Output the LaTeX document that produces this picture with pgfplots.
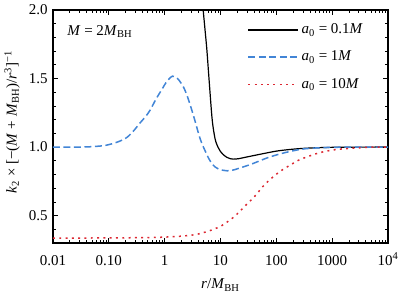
\documentclass[border=0pt]{standalone}
\usepackage{fontspec}
\setmainfont{Liberation Serif}
\usepackage{pgfplots}
\pgfplotsset{compat=1.18}
\definecolor{cblue}{RGB}{66,133,214}
\definecolor{cred}{RGB}{220,40,50}
\begin{document}
\begin{tikzpicture}
\begin{axis}[
  scale only axis, width=223.33pt, height=155.33pt,
  xmode=log, xmin=0.01, xmax=10000, ymin=0.3, ymax=2.0,
  xtick={0.01,0.1,1,10,100,1000,10000},
  xticklabels={0.01,0.10,1,10,100,1000,10\textsuperscript{4}},
  minor xtick={0.02,0.03,0.04,0.05,0.06,0.07,0.08,0.09,0.2,0.3,0.4,0.5,0.6,0.7,0.8,0.9,2,3,4,5,6,7,8,9,20,30,40,50,60,70,80,90,200,300,400,500,600,700,800,900,2000,3000,4000,5000,6000,7000,8000,9000},
  ytick={0.5,1,1.5,2},
  minor ytick={0.3,0.4,0.6,0.7,0.8,0.9,1.1,1.2,1.3,1.4,1.6,1.7,1.8,1.9},
  scaled y ticks=false,
  y tick label style={/pgf/number format/.cd, fixed, fixed zerofill, precision=1},
  /pgf/number format/assume math mode=true,
  tick align=inside,
  major tick length=3.3pt, minor tick length=1.8pt,
  every tick/.style={black, line width=0.5pt},
  axis line style={line width=0.8pt},
  tick label style={font=\fontsize{10}{12}\selectfont},
  xticklabel style={anchor=north, inner sep=0pt, text height=6.7pt, text depth=0pt, yshift=-8pt},
  label style={font=\fontsize{10}{12}\selectfont},
  xlabel={\textit{r}/\textit{M}\textsubscript{BH}},
  xlabel style={at={(axis description cs:0.5,-0.18)}, anchor=center},
  ylabel={\textit{k}\textsubscript{2} × [−(\textit{M} + \textit{M}\textsubscript{BH})/\textit{r}\textsuperscript{3}]\textsuperscript{−1}},
  ylabel style={at={(axis description cs:-0.122,0.52)}, anchor=center, rotate=0},
  legend cell align=left,
  legend style={draw=none, fill=none, at={(0.935,0.955)}, anchor=north east, inner sep=0pt, row sep=6pt, font=\fontsize{10}{12}\selectfont},
  legend image code/.code={\draw[#1] (0pt,0pt) -- (33pt,0pt);},
]
\addplot[black, line width=0.8pt, smooth] coordinates {
(4.6,2.15) (4.9,2.0) (5.3,1.85) (5.7,1.71) (6.3,1.47) (7.1,1.2) (8.0,1.06) (9.0,1.0) (9.8,0.973) (11,0.948) (13,0.925) (15,0.915) (17,0.912) (21,0.915) (27.5,0.925) (55,0.95) (110,0.973) (290,0.99) (1000,0.998) (10000,1.0)
};
\addlegendentry{\textit{a}\textsubscript{0} = 0.1\textit{M}}
\addplot[cblue, line width=1pt, dash pattern=on 4.6pt off 2.4pt, smooth] coordinates {
(0.01,1.0) (0.03,1.0) (0.05,1.003) (0.08,1.01) (0.105,1.02) (0.15,1.04) (0.21,1.07) (0.28,1.12) (0.36,1.175) (0.45,1.22) (0.55,1.27) (0.7,1.35) (0.89,1.42) (1.1,1.48) (1.38,1.517) (1.7,1.5) (2.16,1.44) (2.6,1.36) (3.06,1.27) (3.5,1.19) (4.1,1.09) (4.6,1.03) (5.3,0.973) (6.1,0.92) (7.0,0.88) (8,0.855) (9.2,0.84) (11,0.831) (13,0.827) (16,0.83) (21,0.844) (36,0.876) (73,0.925) (145,0.96) (290,0.985) (600,0.995) (1500,0.999) (10000,1.0)
};
\addlegendentry{\textit{a}\textsubscript{0} = 1\textit{M}}
\addplot[cred, line width=1pt, dash pattern=on 1.3pt off 2.9pt, smooth] coordinates {
(0.01,0.336) (0.1,0.337) (0.5,0.34) (1,0.343) (2,0.35) (3,0.357) (3.76,0.363) (6.1,0.387) (9.8,0.42) (13.9,0.46) (18.2,0.497) (27.5,0.57) (41.7,0.644) (63,0.73) (110,0.815) (190,0.876) (270,0.91) (610,0.96) (1380,0.985) (5000,0.999) (10000,1.0)
};
\addlegendentry{\textit{a}\textsubscript{0} = 10\textit{M}}
\node[anchor=west, font=\fontsize{10}{12}\selectfont] at (rel axis cs:0.027,0.906) {\textit{M} = 2\textit{M}\textsubscript{BH}};
\coordinate (ll) at (rel axis cs:0,0);
\coordinate (ur) at (rel axis cs:1,1);
\end{axis}
\pgfresetboundingbox
\path ([shift={(-35.33pt,-36.67pt)}]ll) rectangle ([shift={(7.33pt,6.67pt)}]ur);
\end{tikzpicture}
\end{document}
